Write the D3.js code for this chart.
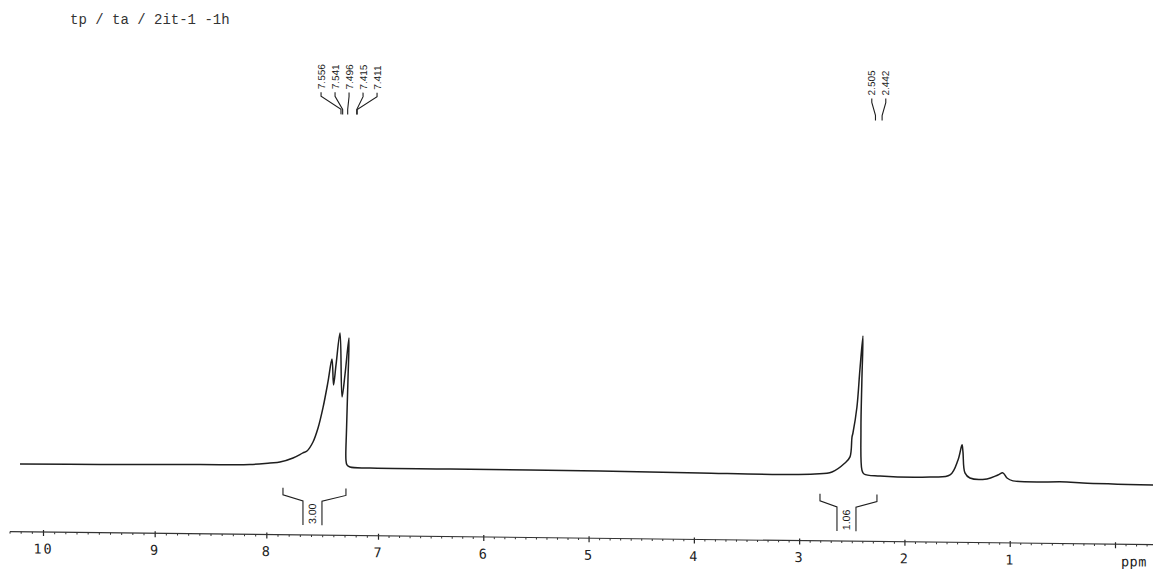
<!DOCTYPE html>
<html>
<head>
<meta charset="utf-8">
<script src="https://cdn.jsdelivr.net/npm/d3@7"></script>
<style>
  html, body { margin: 0; padding: 0; background: #fff; }
  svg { display: block; }
</style>
</head>
<body>
<script>
// ---- 1H NMR spectrum data ----
const titleText = "tp / ta / 2it-1 -1h";

// axis ticks (ppm) and their labels
const majorTicks = [10, 9, 8, 7, 6, 5, 4, 3, 2, 1, 0];
const majorLabels = ["10", "9", "8", "7", "6", "5", "4", "3", "2", "1", ""];
const axisUnit = "ppm";

// offset between peak-picked shifts and the printed ppm scale
const referenceOffset = 0.135;

// trace: chemical shift (ppm) and relative intensity
const traceShift = [
  10.341, 9.624, 8.729, 8.281, 8.102, 8.013, 7.896, 7.807, 7.771, 7.717,
  7.672, 7.628, 7.583, 7.547, 7.533, 7.511, 7.475, 7.457, 7.431, 7.395,
  7.404, 7.417, 7.422, 7.413, 7.386, 7.207, 6.451, 5.027, 4.077, 3.317,
  2.985, 2.823, 2.700, 2.652, 2.633, 2.624, 2.586, 2.558, 2.529, 2.539,
  2.548, 2.539, 2.519, 2.367, 1.892, 1.702, 1.626, 1.588, 1.579, 1.560,
  1.513, 1.351, 1.247, 1.199, 1.161, 1.104, 0.591, 0.439, -0.226
];
const traceIntensity = [
  4.1, 4.4, 5.2, 5.6, 6.9, 7.6, 10.6, 14.3, 15.7, 22.2,
  32.2, 46.6, 65.2, 81.6, 63.1, 77.4, 100.3, 54.6, 70.3, 96.8,
  66.8, 31.0, 9.6, 6.1, 4.6, 4.1, 4.0, 3.8, 3.2, 2.8,
  3.4, 5.0, 11.5, 15.9, 30.1, 33.0, 51.6, 78.1, 102.4, 70.9,
  35.2, 6.7, 3.8, 2.5, 2.2, 3.8, 14.6, 25.4, 20.4, 5.4,
  1.8, 1.3, 4.2, 5.7, 2.1, 0.1, -0.2, -0.8, -1.7
];

// peak-picked shifts, one list per multiplet
const aromaticPeaks = [7.556, 7.541, 7.496, 7.415, 7.411];
const methylPeaks = [2.505, 2.442];

// integral regions (ppm) and their values
const integralFrom = [7.986, 2.937];
const integralTo = [7.422, 2.396];
const integralValues = ["3.00", "1.06"];

// ---- layout ----
const W = 1153, H = 570;
const axisY = 532;
const tiltDeg = 0.65;       // the plotted sheet runs slightly downhill to the right
const leaderDx = 10;
const labelGap = 14;
const ink = "#1e1e1e";

const x = d3.scaleLinear().domain([10, 7, 0]).range([43, 378, 1115]);
const y = d3.scaleLinear().domain([0, 100]).range([470, 330]);

const svg = d3.select("body").append("svg")
  .attr("width", W).attr("height", H)
  .attr("viewBox", `0 0 ${W} ${H}`);

svg.append("rect").attr("width", W).attr("height", H).attr("fill", "#fff");

svg.append("text")
  .attr("x", 70).attr("y", 24)
  .attr("font-family", "Liberation Mono, DejaVu Sans Mono, monospace")
  .attr("font-size", 14)
  .attr("fill", "#333")
  .text(titleText);

const x0 = x(10);
const plot = svg.append("g")
  .attr("transform", `translate(${x0},0) skewY(${tiltDeg}) translate(${-x0},0)`);

// ---- ppm axis ----
const axisG = plot.append("g").attr("transform", `translate(0,${axisY})`);

const minorTicks = d3.range(-3, 104).filter(i => i % 10 !== 0).map(i => i / 10);
axisG.append("g")
  .call(d3.axisBottom(x).tickValues(minorTicks).tickSize(2).tickFormat(""))
  .call(g => g.select(".domain").remove())
  .call(g => g.selectAll(".tick line").attr("stroke", "#333").attr("stroke-width", 1));

axisG.append("g")
  .call(d3.axisBottom(x).tickValues(majorTicks).tickSize(4).tickPadding(8)
    .tickFormat((d, i) => majorLabels[i]))
  .call(g => g.select(".domain").remove())
  .call(g => g.selectAll(".tick line")
    .attr("y1", -2).attr("y2", 4).attr("stroke", "#222").attr("stroke-width", 1.2))
  .call(g => g.selectAll(".tick text")
    .attr("font-family", "DejaVu Sans Mono, monospace")
    .attr("font-size", 13.5)
    .attr("letter-spacing", 2)
    .attr("fill", "#222"));

axisG.append("line")
  .attr("x1", 10).attr("x2", W)
  .attr("y1", 0).attr("y2", 0)
  .attr("stroke", "#333").attr("stroke-width", 1.1);

axisG.append("text")
  .attr("x", 1121).attr("y", 22)
  .attr("font-family", "DejaVu Sans Mono, monospace")
  .attr("font-size", 13.5)
  .attr("letter-spacing", 0.5)
  .attr("fill", "#222")
  .text(axisUnit);

// ---- spectrum trace ----
const tracePts = traceShift.map((s, i) => [s, traceIntensity[i]]);
const line = d3.line()
  .x(d => x(d[0] - referenceOffset))
  .y(d => y(d[1]))
  .curve(d3.curveCatmullRom.alpha(0.5));

plot.append("path")
  .datum(tracePts)
  .attr("d", line)
  .attr("fill", "none")
  .attr("stroke", ink)
  .attr("stroke-width", 1.5)
  .attr("stroke-linejoin", "round");

// ---- peak labels with leader lines ----
function peakLabels(peaks) {
  const ends = peaks.map(p => x(p - referenceOffset) + leaderDx);
  const centre = d3.mean(ends);
  const g = plot.append("g");
  peaks.forEach((p, i) => {
    const slot = centre + (i - (peaks.length - 1) / 2) * labelGap;
    const ex = ends[i];
    g.append("path")
      .attr("d", `M${slot},89 L${slot},93 L${ex},106 L${ex},111`)
      .attr("fill", "none")
      .attr("stroke", ink)
      .attr("stroke-width", 1.1);
    g.append("text")
      .attr("transform", `translate(${slot + 3.6},86) rotate(-90)`)
      .attr("font-family", "Liberation Sans, Arial, sans-serif")
      .attr("font-size", 10)
      .attr("fill", ink)
      .text(p.toFixed(3));
  });
}
peakLabels(aromaticPeaks);
peakLabels(methylPeaks);

// ---- integral brackets ----
integralValues.forEach((v, i) => {
  const xl = x(integralFrom[i] - referenceOffset);
  const xr = x(integralTo[i] - referenceOffset);
  const mid = (xl + xr) / 2 - 2;
  const g = plot.append("g");
  g.append("path")
    .attr("d",
      `M${xl},485 L${xl},492 L${mid - 9.5},498 L${mid - 9.5},522 ` +
      `M${xr},485 L${xr},492 L${mid + 9.5},498 L${mid + 9.5},522`)
    .attr("fill", "none")
    .attr("stroke", ink)
    .attr("stroke-width", 1.1);
  g.append("text")
    .attr("transform", `translate(${mid + 3.8},521) rotate(-90)`)
    .attr("font-family", "Liberation Sans, Arial, sans-serif")
    .attr("font-size", 10.5)
    .attr("fill", ink)
    .text(v);
});
</script>
</body>
</html>
